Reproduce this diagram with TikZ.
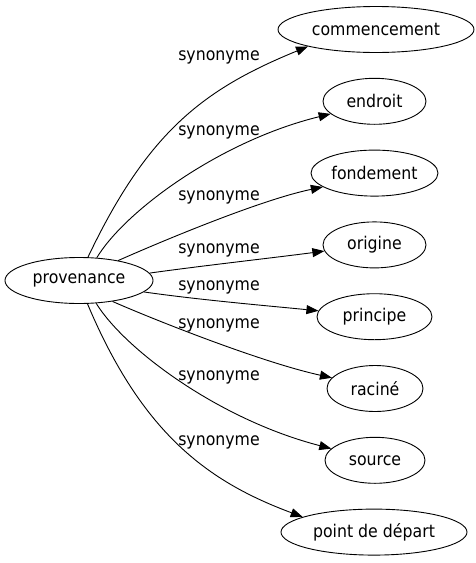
\documentclass[tikz,border=0pt]{standalone}
\usepackage{fontspec}
\setmainfont{DejaVu Sans}[FakeStretch=0.9]
\usetikzlibrary{shapes.geometric,arrows.meta}
\begin{document}
\begin{tikzpicture}[x=1pt,y=-1pt,
  ell/.style={ellipse, draw, line width=0.9pt, inner sep=0pt, minimum height=46pt, font=\fontsize{17.5}{21}\selectfont},
  lab/.style={inner sep=0pt, font=\fontsize{17.5}{21}\selectfont},
  syn/.style={-{Triangle[length=12pt,width=9pt]}, line width=0.9pt}]
\useasboundingbox (0,0) rectangle (476,563);
\node[ell, minimum width=148pt] (prov) at (79,280.5) {provenance};
\node[ell, minimum width=196pt] (n1) at (376,29.5) {commencement};
\node[ell, minimum width=103pt] (n2) at (374.5,101.3) {endroit};
\node[ell, minimum width=127pt] (n3) at (374.5,173.1) {fondement};
\node[ell, minimum width=103pt] (n4) at (374.5,244.9) {origine};
\node[ell, minimum width=115pt] (n5) at (374.5,316.7) {principe};
\node[ell, minimum width=96pt] (n6) at (375,388.5) {raciné};
\node[ell, minimum width=100pt] (n7) at (375,460.3) {source};
\node[ell, minimum width=186pt] (n8) at (374,532.1) {point de départ};
\node[lab] (l1) at (219,57) {synonyme};
\node[lab] (l2) at (219,132.5) {synonyme};
\node[lab] (l3) at (219,197.5) {synonyme};
\node[lab] (l4) at (219,250.5) {synonyme};
\node[lab] (l5) at (219,287.5) {synonyme};
\node[lab] (l6) at (219,325.5) {synonyme};
\node[lab] (l7) at (219,377.5) {synonyme};
\node[lab] (l8) at (219,442.5) {synonyme};
\draw[syn] (prov.69) .. controls (148,131) and (204,89) .. (n1.194);
\draw[syn] (prov.52.5) .. controls (125,211) and (220,141) .. (n2.196.4);
\draw[syn] (prov.27) .. controls (160,242) and (260,200) .. (n3.195.3);
\draw[syn] (prov.6.8) .. controls (200,266) and (280,257) .. (n4.187.8);
\draw[syn] (prov.-10.4) .. controls (200,300) and (270,306) .. (n5.174.3);
\draw[syn] (prov.-32) .. controls (150,318) and (260,362) .. (n6.166.3);
\draw[syn] (prov.-53.7) .. controls (125,350) and (220,420) .. (n7.165.6);
\draw[syn] (prov.-70.6) .. controls (142.6,434.8) and (209,482) .. (n8.168);
\end{tikzpicture}
\end{document}
